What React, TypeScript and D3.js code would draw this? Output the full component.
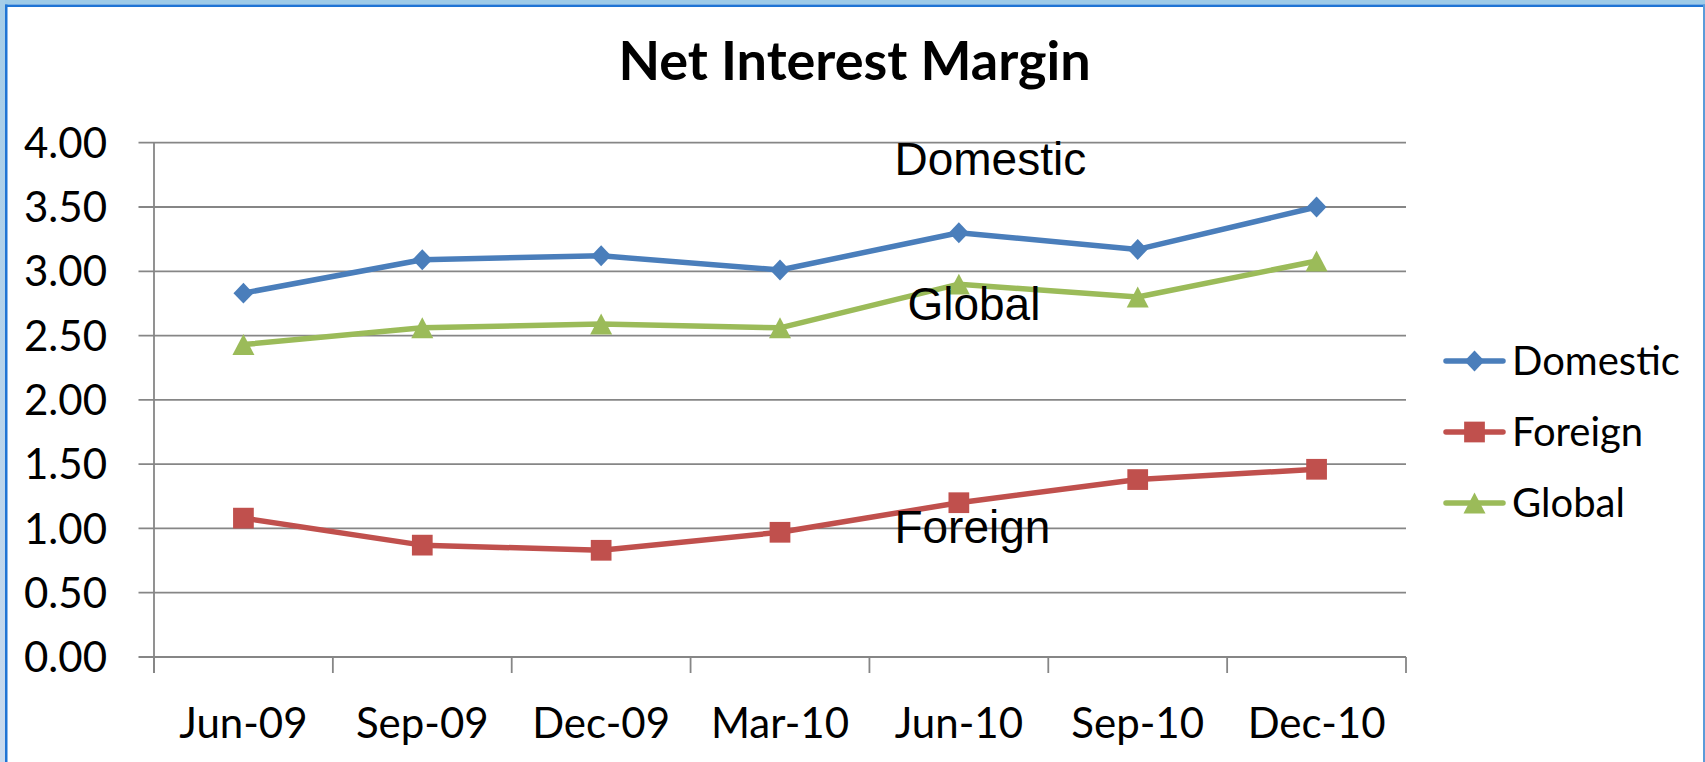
import React from 'react';
import * as d3 from 'd3';

// chart data
const categories = ['Jun-09', 'Sep-09', 'Dec-09', 'Mar-10', 'Jun-10', 'Sep-10', 'Dec-10'];
const domestic = [2.83, 3.09, 3.12, 3.01, 3.3, 3.17, 3.5];
const foreign = [1.08, 0.87, 0.83, 0.97, 1.2, 1.38, 1.46];
const global = [2.43, 2.56, 2.59, 2.56, 2.9, 2.8, 3.08];
const yTicks = [0, 0.5, 1, 1.5, 2, 2.5, 3, 3.5, 4];
const seriesNames = ['Domestic', 'Foreign', 'Global'];

// free text labels inside the plot (category + value of the baseline)
const notes = [
    {text: 'Domestic', category: 'Jun-10', value: 3.75, dx: 25},
    {text: 'Global', category: 'Jun-10', value: 2.62, dx: 38},
    {text: 'Foreign', category: 'Jun-10', value: 0.885, dx: 25},
];

const W = 1705;
const H = 762;
const margin = {top: 142.7, right: 299, bottom: 105, left: 154};
const calibri = 'Lato, "Open Sans", sans-serif';
const gridColor = '#868686';

const diamond = {
    draw(ctx: any, size: number) {
        const r = Math.sqrt(size) / 2;
        ctx.moveTo(0, -r);
        ctx.lineTo(r * 0.95, 0);
        ctx.lineTo(0, r);
        ctx.lineTo(-r * 0.95, 0);
        ctx.closePath();
    },
};
const triangle = {
    draw(ctx: any, size: number) {
        const r = Math.sqrt(size) / 2;
        ctx.moveTo(0, -r);
        ctx.lineTo(r * 1.05, r);
        ctx.lineTo(-r * 1.05, r);
        ctx.closePath();
    },
};

const seriesList = [
    {name: seriesNames[0], values: domestic, color: '#4a7ebb', symbol: diamond, size: 440},
    {name: seriesNames[1], values: foreign, color: '#c0504d', symbol: d3.symbolSquare, size: 430},
    {name: seriesNames[2], values: global, color: '#9bbb59', symbol: triangle, size: 440},
];

export default function App() {
    const x = d3.scaleBand<string>().domain(categories).range([margin.left, W - margin.right]).padding(0);
    const y = d3.scaleLinear().domain([0, 4]).range([H - margin.bottom, margin.top]);
    const cx = (c: string) => (x(c) as number) + x.bandwidth() / 2;
    const x0 = margin.left;
    const x1 = W - margin.right;
    const y0 = y(0);

    const line = d3.line<number>()
        .x((_, i) => cx(categories[i]))
        .y((d) => y(d));

    const boundaries = categories.map((c) => x(c) as number).concat([x1]);

    const legendX = 1446;
    const legendY = [361, 432, 503];

    return (
        <svg width={W} height={H} style={{position: 'absolute', left: 0, top: 0, display: 'block', background: '#fff'}}>
            <defs>
                <linearGradient id="leftband" x1="0" y1="0" x2="0" y2="1">
                    <stop offset="0" stopColor="#a5cde8" />
                    <stop offset="1" stopColor="#c9daee" />
                </linearGradient>
            </defs>
            <rect x={0} y={0} width={W} height={H} fill="#fff" />

            {/* window frame */}
            <rect x={0} y={0} width={W} height={4.5} fill="#9ecbe8" />
            <rect x={0} y={0} width={5} height={H} fill="url(#leftband)" />
            <rect x={5} y={4.5} width={W - 5} height={2.5} fill="#1f74d4" />
            <rect x={5} y={4.5} width={2.5} height={H - 4.5} fill="#1f74d4" />
            <rect x={W - 2} y={4.5} width={2} height={H - 4.5} fill="#5b9bd9" />

            {/* title */}
            <text x={854.6} y={80} textAnchor="middle" fontFamily={calibri} fontWeight="bold" fontSize={54} fill="#000">
                Net Interest Margin
            </text>

            {/* grid and y ticks */}
            {yTicks.map((t) => (
                <g key={t}>
                    <line x1={x0 - 15.5} x2={x1} y1={y(t)} y2={y(t)} stroke={gridColor} strokeWidth={1.8} />
                    <text x={107} y={y(t)} dy="0.36em" textAnchor="end" fontFamily={calibri} fontSize={42} fill="#000">
                        {d3.format('.2f')(t)}
                    </text>
                </g>
            ))}

            {/* axes */}
            <line x1={x0} x2={x0} y1={y(4)} y2={y0 + 16} stroke={gridColor} strokeWidth={1.8} />
            {boundaries.map((b, i) => (
                <line key={i} x1={b} x2={b} y1={y0} y2={y0 + 16} stroke={gridColor} strokeWidth={1.8} />
            ))}
            {categories.map((c) => (
                <text key={c} x={cx(c)} y={738} textAnchor="middle" fontFamily={calibri} fontSize={42} fill="#000">
                    {c}
                </text>
            ))}

            {/* series */}
            {seriesList.map((s) => (
                <g key={s.name}>
                    <path d={line(s.values) as string} fill="none" stroke={s.color} strokeWidth={5.5} strokeLinejoin="round" />
                    {s.values.map((v, i) => (
                        <path
                            key={i}
                            transform={`translate(${cx(categories[i])},${y(v)})`}
                            d={d3.symbol().type(s.symbol as any).size(s.size)() as string}
                            fill={s.color}
                        />
                    ))}
                </g>
            ))}

            {/* text annotations */}
            {notes.map((n) => (
                <text key={n.text} x={(x(n.category) as number) + n.dx} y={y(n.value)} fontFamily='"Liberation Sans", Arial, sans-serif' fontSize={46} fill="#000">
                    {n.text}
                </text>
            ))}

            {/* legend */}
            {seriesList.map((s, i) => (
                <g key={s.name} transform={`translate(${legendX},${legendY[i]})`}>
                    <line x1={0} x2={57} y1={0} y2={0} stroke={s.color} strokeWidth={5.5} strokeLinecap="round" />
                    <path transform="translate(28.5,0)" d={d3.symbol().type(s.symbol as any).size(s.size)() as string} fill={s.color} />
                    <text x={66} y={0} dy="0.36em" fontFamily={calibri} fontSize={40} fill="#000">
                        {s.name}
                    </text>
                </g>
            ))}
        </svg>
    );
}
